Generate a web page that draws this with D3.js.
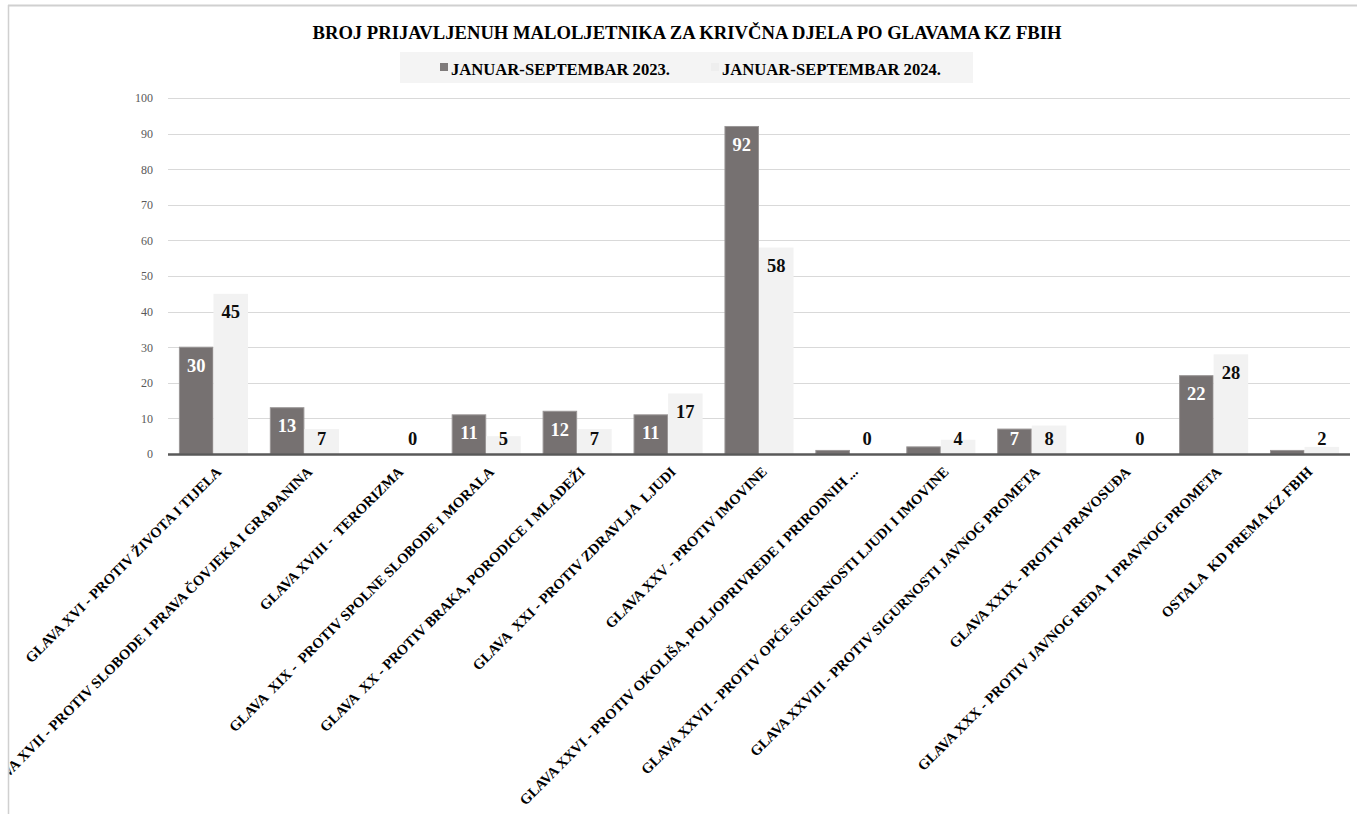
<!DOCTYPE html>
<html>
<head>
<meta charset="utf-8">
<script src="https://cdn.jsdelivr.net/npm/d3@7"></script>
<style>
  html, body { margin: 0; padding: 0; background: #fff; }
  svg { display: block; }
  text { font-family: "Liberation Serif", "DejaVu Serif", serif; }
  .xlab { white-space: pre; }
</style>
</head>
<body>
<svg id="chart" width="1357" height="814"></svg>
<script>
const categories = [
  "GLAVA XVI - PROTIV ŽIVOTA I TIJELA",
  "GLAVA XVII - PROTIV SLOBODE I PRAVA ČOVJEKA I GRAĐANINA",
  "GLAVA XVIII -  TERORIZMA",
  "GLAVA  XIX -  PROTIV SPOLNE SLOBODE I MORALA",
  "GLAVA  XX - PROTIV BRAKA, PORODICE I MLADEŽI",
  "GLAVA  XXI - PROTIV ZDRAVLJA  LJUDI",
  "GLAVA XXV - PROTIV IMOVINE",
  "GLAVA XXVI - PROTIV OKOLIŠA, POLJOPRIVREDE I PRIRODNIH ...",
  "GLAVA XXVII - PROTIV OPĆE SIGURNOSTI LJUDI I IMOVINE",
  "GLAVA XXVIII - PROTIV SIGURNOSTI JAVNOG PROMETA",
  "GLAVA XXIX - PROTIV PRAVOSUĐA",
  "GLAVA XXX - PROTIV JAVNOG REDA  I PRAVNOG PROMETA",
  "OSTALA  KD PREMA KZ FBIH"
];
const seriesNames = ["JANUAR-SEPTEMBAR 2023.", "JANUAR-SEPTEMBAR 2024."];
const values2023 = [30, 13, 0, 11, 12, 11, 92, 1, 2, 7, 0, 22, 1];
const values2024 = [45, 7, 0, 5, 7, 17, 58, 0, 4, 8, 0, 28, 2];
const yTicks = [0, 10, 20, 30, 40, 50, 60, 70, 80, 90, 100];
const title = "BROJ PRIJAVLJENUH MALOLJETNIKA ZA KRIVČNA DJELA PO GLAVAMA KZ FBIH";

const colors = ["#767171", "#f2f2f2"];
const svg = d3.select("#chart");

// frame
svg.append("line").attr("x1", 8).attr("x2", 1357).attr("y1", 5.5).attr("y2", 5.5)
  .attr("stroke", "#d0d0d0").attr("stroke-width", 2);
svg.append("line").attr("x1", 8.5).attr("x2", 8.5).attr("y1", 5).attr("y2", 814)
  .attr("stroke", "#d0d0d0").attr("stroke-width", 1.5);

// title
svg.append("text").attr("x", 687).attr("y", 39).attr("text-anchor", "middle")
  .attr("font-size", 18.5).attr("font-weight", "bold").attr("fill", "#000")
  .attr("textLength", 749).attr("lengthAdjust", "spacingAndGlyphs")
  .text(title);

// legend
svg.append("rect").attr("x", 400).attr("y", 52).attr("width", 573).attr("height", 31).attr("fill", "#f4f4f4");
const legX = [440, 711];
seriesNames.forEach((n, i) => {
  svg.append("rect").attr("x", legX[i]).attr("y", 63).attr("width", 8).attr("height", 8)
    .attr("fill", i === 0 ? "#7f7b7b" : "#eeeeee");
  svg.append("text").attr("x", legX[i] + 11).attr("y", 74.5)
    .attr("font-size", 17).attr("font-weight", "bold").attr("fill", "#000")
    .attr("textLength", 219).attr("lengthAdjust", "spacingAndGlyphs")
    .text(n);
});

// scales
const x0 = d3.scaleBand().domain(categories).range([168, 1350]).paddingInner(0.24).paddingOuter(0.12);
const x1 = d3.scaleBand().domain([0, 1]).range([0, x0.bandwidth()]);
const y = d3.scaleLinear().domain([0, 100]).range([454, 98]);

// gridlines
svg.append("g").selectAll("line").data(yTicks.filter(d => d > 0)).join("line")
  .attr("x1", 168).attr("x2", 1350)
  .attr("y1", d => Math.round(y(d)) + 0.5).attr("y2", d => Math.round(y(d)) + 0.5)
  .attr("stroke", "#d9d9d9").attr("stroke-width", 1);

// y axis
const yAxis = svg.append("g").attr("transform", "translate(168,0)")
  .call(d3.axisLeft(y).tickValues(yTicks).tickSize(0).tickPadding(15));
yAxis.select(".domain").remove();
yAxis.selectAll("text").attr("font-family", "Liberation Serif, serif").attr("font-size", 12).attr("fill", "#595959");

// bars
const data = categories.map((c, i) => ({ c, v: [values2023[i], values2024[i]] }));
const groups = svg.append("g").selectAll("g").data(data).join("g")
  .attr("transform", d => `translate(${x0(d.c)},0)`);
groups.selectAll("rect").data(d => d.v.map((v, s) => ({ v, s }))).join("rect")
  .attr("x", d => x1(d.s) + (d.s === 0 ? 0.5 : 0))
  .attr("width", d => x1.bandwidth() - (d.s === 0 ? 1 : 0))
  .attr("y", d => y(d.v))
  .attr("height", d => y(0) - y(d.v))
  .attr("fill", d => colors[d.s])
  .attr("stroke", d => d.s === 0 && d.v > 0 ? "#9a9696" : "none")
  .attr("stroke-width", 1);

// labels
groups.selectAll("text").data(d => d.v.map((v, s) => ({ v, s })).filter(d => d.s === 1 || d.v >= 5)).join("text")
  .attr("x", d => x1(d.s) + x1.bandwidth() / 2)
  .attr("y", d => Math.min(y(d.v) + 18, 439))
  .attr("dy", "0.35em")
  .attr("text-anchor", "middle")
  .attr("font-size", 18.5).attr("font-weight", "bold")
  .attr("fill", d => d.s === 0 ? "#ffffff" : "#0d0d0d")
  .text(d => d.v);

// baseline axis
svg.append("line").attr("x1", 168).attr("x2", 1350).attr("y1", y(0) + 0.5).attr("y2", y(0) + 0.5)
  .attr("stroke", "#595959").attr("stroke-width", 2.5);

// x labels
svg.append("clipPath").attr("id", "clipx").append("rect")
  .attr("x", 9.5).attr("y", 456).attr("width", 1348).attr("height", 358);
svg.append("g").attr("clip-path", "url(#clipx)")
  .selectAll("text").data(categories).join("text")
  .attr("class", "xlab")
  .attr("transform", d => `translate(${x0(d) + x0.bandwidth() / 2 + 2},466) rotate(-45)`)
  .attr("text-anchor", "end")
  .attr("dy", "0.66em")
  .attr("font-size", 14.5).attr("font-weight", "bold").attr("fill", "#000")
  .text(d => d);
</script>
</body>
</html>
